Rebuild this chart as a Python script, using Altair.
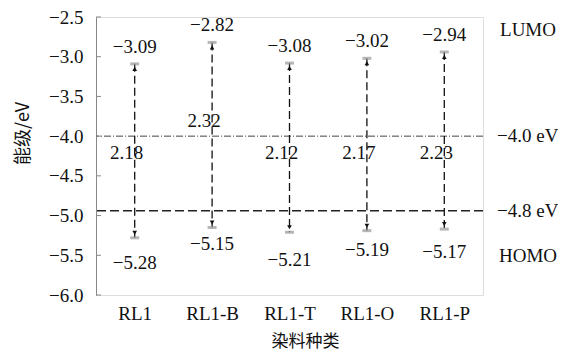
import altair as alt
import pandas as pd

# ---- data ----
dyes = ["RL1", "RL1-B", "RL1-T", "RL1-O", "RL1-P"]
lumo = [-3.09, -2.82, -3.08, -3.02, -2.94]
homo = [-5.28, -5.15, -5.21, -5.19, -5.17]
gap_text = ["2.18", "2.32", "2.12", "2.17", "2.23"]
ref_levels = [-4.0, -4.94]
ref_text = ["\u22124.0 eV", "\u22124.8 eV"]
y_ticks = [-6.0, -5.5, -5.0, -4.5, -4.0, -3.5, -3.0, -2.5]

# ---- layout helpers ----
W, H = 387, 278
Y0, Y1 = -6.0, -2.5
px = (Y1 - Y0) / H  # data units per pixel
gap_label_at = [-4.21, -3.81, -4.21, -4.21, -4.21]
homo_label_px = [25, 17, 28, 19, 23]

def fmt(v):
    return f"{v:.2f}".replace("-", "\u2212")

df = pd.DataFrame({
    "dye": dyes,
    "lumo": lumo,
    "homo": homo,
    "lumo_txt": [fmt(v) for v in lumo],
    "homo_txt": [fmt(v) for v in homo],
    "gap_txt": gap_text,
    "gap_y": gap_label_at,
    "lumo_ly": [v + 17 * px for v in lumo],
    "homo_ly": [v - d * px for v, d in zip(homo, homo_label_px)],
})
ref_df = pd.DataFrame({"level": ref_levels, "txt": ref_text})
tick_df = pd.DataFrame({"t": y_ticks})

SERIF = "Liberation Serif"
CJK = "Noto Sans CJK SC"
FS = 19

xscale = alt.Scale(type="point", padding=0.5, domain=dyes)
yscale = alt.Scale(domain=[Y0, Y1], nice=False, zero=False)

xaxis = alt.Axis(
    title="染料种类", titleFont=CJK, titleFontSize=17, titleFontWeight="normal",
    titleColor="#111", titleX=209, titleY=46, titleBaseline="middle", titleAlign="center",
    domain=False, ticks=False, labelAngle=0, labelPadding=9,
    labelFont=SERIF, labelFontSize=FS, labelColor="#111",
)
yaxis = alt.Axis(
    title="能级/eV", titleFont=CJK, titleFontSize=18, titleFontWeight="normal",
    titleColor="#111", titleX=-73, titleY=116, titleAngle=270,
    titleBaseline="middle", titleAlign="center",
    values=y_ticks, format=".1f", domain=True, domainColor="#888",
    ticks=False, grid=False, labelPadding=13,
    labelFont=SERIF, labelFontSize=FS, labelColor="#111",
)

def X():
    return alt.X("dye:N", scale=xscale, axis=xaxis, sort=dyes)

def Y(field):
    return alt.Y(f"{field}:Q", scale=yscale, axis=yaxis)

base = alt.Chart(df)

ref40 = alt.Chart(ref_df[ref_df.level == -4.0]).mark_rule(
    color="#444", strokeWidth=1, strokeDash=[7, 2, 1, 2]
).encode(y=Y("level"))
ref48 = alt.Chart(ref_df[ref_df.level != -4.0]).mark_rule(
    color="#222", strokeWidth=1.5, strokeDash=[9, 4]
).encode(y=Y("level"))

inner_ticks = alt.Chart(tick_df).mark_rule(color="#888", strokeWidth=1).encode(
    y=Y("t"), x=alt.value(0), x2=alt.value(5)
)

vlines = base.mark_rule(color="#111", strokeWidth=1.3, strokeDash=[8, 4]).encode(
    x=X(), y=Y("lumo"), y2="homo:Q"
)

mk_l = base.mark_tick(color="#999", size=9, thickness=3, orient="horizontal").encode(
    x=X(), y=Y("lumo"))
mk_h = base.mark_tick(color="#999", size=9, thickness=3, orient="horizontal").encode(
    x=X(), y=Y("homo"))

arrow_up = base.mark_point(
    shape="triangle-up", size=22, filled=True, color="#111", opacity=1, yOffset=5
).encode(x=X(), y=Y("lumo"))
arrow_dn = base.mark_point(
    shape="triangle-down", size=22, filled=True, color="#111", opacity=1, yOffset=-5
).encode(x=X(), y=Y("homo"))

txt_kw = dict(font=SERIF, fontSize=FS, color="#111", baseline="middle", align="center")
lumo_lbl = base.mark_text(**txt_kw).encode(x=X(), y=Y("lumo_ly"), text="lumo_txt:N")
homo_lbl = base.mark_text(**txt_kw).encode(x=X(), y=Y("homo_ly"), text="homo_txt:N")
gap_lbl = base.mark_text(dx=-8, **txt_kw).encode(x=X(), y=Y("gap_y"), text="gap_txt:N")

ref_lbl = alt.Chart(ref_df).mark_text(
    font=SERIF, fontSize=FS, color="#111", baseline="middle", align="left"
).encode(x=alt.value(401), y=Y("level"), text="txt:N")

side_df = pd.DataFrame({"txt": ["LUMO", "HOMO"], "py": [13, 239]})
side_lbl = alt.Chart(side_df).mark_text(
    font=SERIF, fontSize=FS, color="#111", baseline="middle", align="center"
).encode(x=alt.value(432), y=alt.Y("py:Q", scale=None), text="txt:N")

chart = alt.layer(
    ref40, ref48, inner_ticks, vlines, mk_l, mk_h, arrow_up, arrow_dn,
    lumo_lbl, homo_lbl, gap_lbl, ref_lbl, side_lbl
).properties(
    width=W, height=H,
    autosize=alt.AutoSizeParams(type="none"),
    padding={"left": 88, "top": 9, "right": 75, "bottom": 57},
).configure_view(stroke=None).configure(background="white")

chart.save("out.html", embed_options={"renderer": "svg", "actions": False})
